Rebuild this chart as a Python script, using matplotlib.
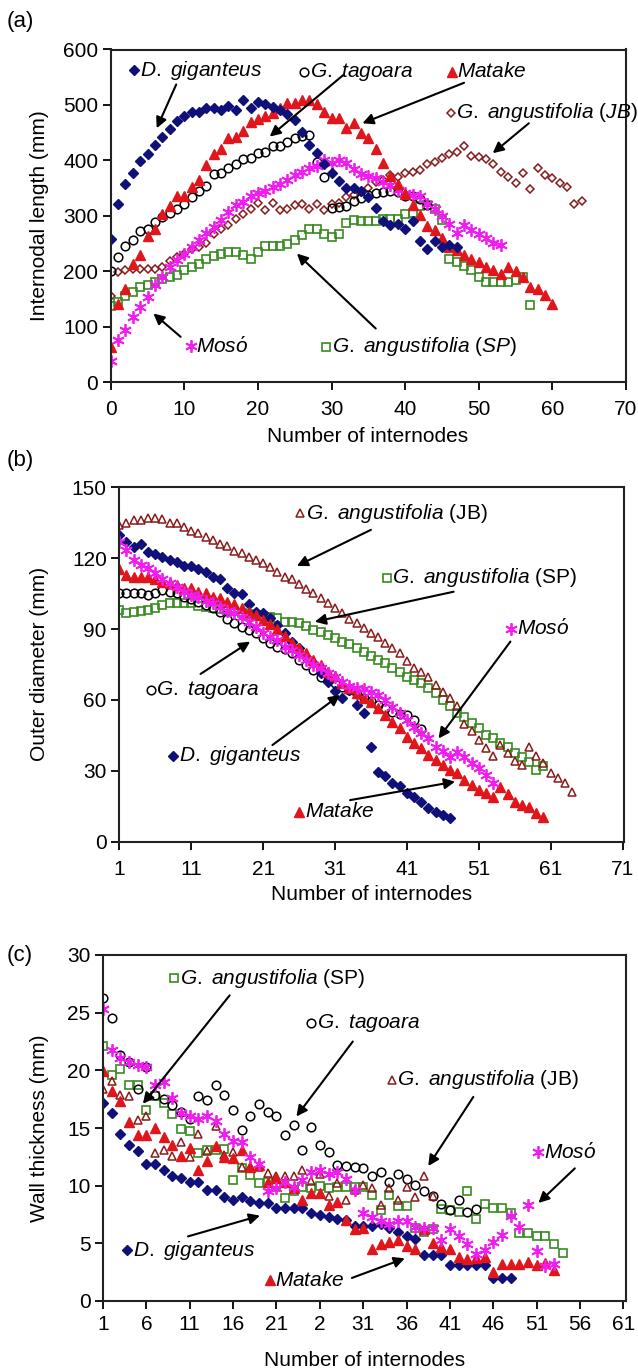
import numpy as np
import matplotlib
matplotlib.use("Agg")
import matplotlib.pyplot as plt

plt.rcParams['font.family'] = ['Liberation Sans', 'DejaVu Sans']
plt.rcParams['mathtext.fontset'] = 'custom'
plt.rcParams['mathtext.it'] = 'Liberation Sans:italic'
plt.rcParams['mathtext.rm'] = 'Liberation Sans'

# ---------------- (a) internodal length, internode 0.. ----------------
a_dg = [258, 322, 358, 378, 399, 411, 427, 442, 456, 471, 481, 488, 488, 495, 495, 491,
        499, 491, 509, 494, 506, 501, 497, 491, 483, 473, 452, 428, 414, 393, 378, 363,
        350, 350, 344, 334, 314, 291, 284, 285, 277, 290, 254, 240, 254, 244, 247, 244]
a_gt = [200, 226, 246, 256, 273, 277, 289, 298, 306, 312, 322, 334, 345, 354, 375, 378,
        386, 393, 402, 404, 413, 416, 426, 426, 434, 440, 444, 446, 397, 370, 314, 316,
        318, 326, 333, 338, 342, 343, 344, 343, 335, 336, 330, 320]
a_mt = [64, 142, 169, 213, 229, 264, 277, 304, 318, 336, 336, 352, 365, 392, 411, 420,
        440, 443, 453, 470, 474, 480, 486, 494, 503, 503, 509, 509, 501, 488, 476, 476,
        459, 467, 450, 440, 421, 396, 372, 358, 340, 320, 301, 281, 274, 260, 244, 238,
        229, 223, 216, 208, 202, 196, 208, 200, 189, 172, 169, 157, 141]
a_ms = [39, 76, 94, 118, 136, 154, 175, 190, 207, 220, 232, 244, 256, 270, 280, 292,
        307, 319, 325, 336, 342, 344, 352, 357, 364, 374, 380, 386, 390, 400, 395, 400,
        395, 384, 376, 372, 368, 362, 355, 347, 341, 338, 335, 322, 313, 300, 286, 270,
        283, 275, 268, 260, 252, 247]
a_jb = [156, 198, 202, 205, 204, 204, 204, 208, 219, 226, 231, 240, 244, 252, 268, 276,
        283, 294, 304, 313, 324, 310, 324, 310, 313, 320, 322, 313, 321, 310, 322, 324,
        334, 338, 343, 350, 361, 365, 373, 371, 377, 380, 383, 393, 398, 405, 411, 416,
        426, 408, 407, 402, 393, 380, 371, 359, 377, 348, 387, 374, 369, 359, 353, 322, 326]
a_sp = [138, 145, 156, 163, 172, 175, 181, 186, 189, 193, 202, 208, 214, 223, 228, 232,
        235, 235, 229, 222, 235, 246, 246, 246, 250, 256, 265, 276, 277, 268, 262, 268,
        288, 292, 291, 291, 291, 295, 295, 295, 304, 305, 318, 320, 312, 292, 223, 217,
        210, 202, 190, 180, 180, 180, 180, 184, 189, 139]

# ---------------- (b) outer diameter, internode 1.. ----------------
b_jb = [134, 135, 136, 136.2, 137, 137.1, 136.4, 135, 135, 133, 131.6, 130.5, 128.8, 127.7,
        125.9, 125.2, 123.2, 122.3, 120.4, 119.2, 117.8, 116.1, 114.3, 112.2, 111, 108.9,
        106.8, 105.1, 103, 100.9, 98.8, 96.7, 94.1, 92.4, 90.5, 88.5, 86.5, 84, 82, 79.7,
        76.5, 73.5, 72, 69.6, 66.3, 63.2, 60.7, 57.4, 49.7, 47, 43, 39.8, 36.3, 41, 37.7,
        34.3, 32.5, 40.2, 36.3, 33.2, 29.2, 26.8, 24.7, 21.2]
b_dg = [129.8, 126.8, 124.6, 126, 122.8, 121.8, 120.4, 119.2, 118.5, 116.7, 116.7, 115.3,
        114.3, 112.2, 111.1, 107.2, 105.1, 104.7, 100.6, 97.4, 96.7, 94.6, 91.7, 88.2, 84.7,
        81.9, 78.3, 75.5, 71.5, 67.7, 63.9, 60.7, 64.2, 57.9, 54.3, 40.2, 29.6, 27.8, 24.7,
        23.6, 20.5, 19, 16.9, 14.1, 12.7, 11.3, 9.9]
b_ms = [127, 123.5, 119.2, 117.1, 115.7, 113.6, 111, 109.4, 107.7, 105.8, 104.4, 103.7, 102,
        100.9, 99.5, 97.8, 96.7, 95.2, 93.1, 91, 88.2, 86.8, 85.4, 82.5, 81.1, 79, 76.9,
        74.8, 73.4, 71.3, 69.8, 67.7, 66, 65, 64.5, 63.5, 62, 60, 57, 54.3, 51.5, 48.7,
        45.9, 43.7, 40.2, 38.5, 36, 38.1, 36, 33.2, 31, 28.2, 24.7]
b_mt = [115.3, 112.9, 112.2, 111.9, 111.9, 111, 110, 109.6, 108.6, 107.2, 107.2, 105.8, 105.1,
        103.7, 103, 101.6, 100.6, 98.8, 97.4, 95.9, 93.8, 92, 89.9, 87.1, 84, 81.8, 79.7,
        76.9, 74.8, 72, 70.1, 67.3, 64.9, 62.8, 61, 59, 56.4, 53.6, 50.8, 48, 44.4, 41.6,
        39.5, 36.7, 34.6, 32.5, 30.3, 28.9, 26.1, 24, 22, 20.5, 19, 23, 20, 17, 15.5, 14.8,
        12, 10.6]
b_gt = [105.1, 105.1, 105.1, 105.1, 104.4, 105.1, 106.5, 105.8, 105.1, 103.7, 102.6, 101.6,
        100.2, 98.8, 97.4, 94.1, 92.7, 91, 89.6, 88.2, 86.1, 84.2, 82.5, 81.4, 79.7, 76.9,
        74.8, 72.7, 69.8, 68.5, 67, 65.5, 64, 62.5, 61, 59.5, 58, 56.5, 55, 54, 53.5, 51.5, 47.5]
b_sp = [98.1, 96.9, 97.4, 97.8, 98.1, 98.8, 100.2, 101.2, 101.2, 101.2, 100.9, 99.8, 99.5, 99,
        98.5, 98, 97.5, 97, 96.5, 95.8, 95.5, 95.2, 94.5, 93.1, 93.1, 92.4, 91.3, 89.6, 88.9,
        87.5, 86.1, 84.5, 83.5, 82, 80.5, 78.5, 77, 75.5, 73.4, 72, 69.8, 68.5, 67, 64.9,
        62.8, 60, 57.4, 54.3, 52.6, 50.1, 48, 45.2, 43.7, 41.6, 40.2, 37.7, 36, 33.9, 30.5, 32]

# ---------------- (c) wall thickness, internode 1.. ----------------
c_dg = [17.2, 16.3, 14.5, 13.5, 13, 11.9, 11.9, 11.4, 10.8, 10.7, 10.3, 10.3, 9.6, 9.6, 9,
        8.8, 9, 8.7, 8.5, 8.5, 8.1, 8.1, 8.1, 8.1, 7.6, 7.5, 7.3, 7.1, 7, 6.5, 6.5, 6.5, 6.7,
        6.3, 6, 5.6, 5.4, 4, 4, 4, 3.1, 3.1, 3.1, 3.1, 3.1, 2, 2, 2]
c_mt = [19.9, 18.2, 17.3, 15.5, 14.4, 14.4, 15, 14.2, 13.5, 12.6, 13.3, 11.4, 12.1, 13.4, 12.5,
        12.4, 13.1, 11.6, 11.8, 10.3, 10.7, 10.3, 9.8, 8.8, 9.4, 9.4, 8.3, 8.6, 7, 6.2, 6.3,
        4.5, 4.9, 5.1, 5.3, 4.8, 4.5, 6.2, 5, 4.7, 4.5, 3.8, 3.6, 3.7, 3.8, 2.5, 3.2, 3.2,
        3.2, 3.4, 3.1, 3.3, 2.7]
c_ms = [25.3, 21.8, 21.1, 20.7, 20.5, 20.3, 18.7, 19, 17.6, 16.3, 16, 15.8, 16, 15.6, 14.5,
        13.9, 13.8, 12.5, 11.9, 9.5, 9.8, 10.3, 9.9, 10.5, 11.2, 11.4, 11, 11.2, 10.6, 9.6,
        7.6, 7.3, 6.9, 6.7, 6.9, 6.9, 6.4, 6.3, 6.3, 5.3, 6.2, 5.6, 4.9, 4.1, 4.4, 5.1, 5.7,
        7.4, 6.4, 8.3, 4.3, 3, 3.2]
c_gt = [26.3, 24.5, 21.3, 20.7, 18.4, 20.3, 17.9, 17.5, 17, 16.4, 15.8, 17.8, 17.4, 18.7,
        17.9, 16.6, 14.8, 16, 17.1, 16.4, 16, 14.4, 15.3, 13.1, 15.1, 13.5, 12.9, 11.8, 11.7,
        11.6, 11.5, 10.8, 11.2, 10.3, 11, 10.6, 10.1, 9.5, 9.1, 8.4, 7.9, 8.8, 7.7, 8]
c_sp = [22.1, 19.6, 20.1, 18.7, 18.7, 16.6, 17.8, 17.2, 16.2, 14.9, 14.7, 12.8, 13.1, 13.1,
        13.2, 10.5, 11.5, 10.9, 10.2, 10.3, 9.9, 8.9, 9.5, 9.9, 9.8, 10, 9.8, 9.9, 9.9, 9.9,
        9.9, 9.2, 7.9, 9.2, 8.2, 8.2, 6.3, 6, 6.2, 8, 7.9, 7.7, 9.5, 7.1, 8.4, 8.1, 8.1, 7.6,
        5.9, 5.9, 5.6, 5.6, 4.9, 4.2]
c_jb = [18.4, 19.1, 17.9, 17.8, 15.7, 16, 12.8, 13.1, 12.6, 13.8, 12.5, 14.5, 13, 15.2, 12.7,
        12.9, 11.6, 11.6, 11.6, 11.1, 10.8, 10.8, 10.8, 11.4, 10.4, 11, 9.1, 10.2, 8.8, 9.6,
        10.1, 9.8, 8.3, 9.8, 8.8, 9.9, 9, 10.8, 9.1]

c_xticks = [1, 6, 11, 16, 21, 26, 31, 36, 41, 46, 51, 56, 61]
c_xticklabels = ['1', '6', '11', '16', '21', '2', '31', '36', '41', '46', '51', '56', '61']

NAVY = '#10107a'
RED = '#e0161c'
MAG = '#f01cf0'
GREEN = '#3a8a22'
BROWN = '#8a1a1a'

st_dg = dict(marker='D', ms=4.6, color=NAVY, mec=NAVY, ls='none')
st_gt = dict(marker='o', ms=6.2, mfc='none', mec='black', mew=1.1, ls='none')
st_mt = dict(marker='^', ms=6.8, color=RED, mec=RED, ls='none')
st_ms = dict(marker=(6, 2, 0), ms=9, color=MAG, mec=MAG, mew=1.3, ls='none')
st_sp = dict(marker='s', ms=6.3, mfc='none', mec=GREEN, mew=1.2, ls='none')
st_jbd = dict(marker='D', ms=4.3, mfc='none', mec=BROWN, mew=1.1, ls='none')
st_jbt = dict(marker='^', ms=6.3, mfc='none', mec=BROWN, mew=1.1, ls='none')

FS = 15
W, H = 638, 1371
fig = plt.figure(figsize=(W / 100, H / 100), dpi=100)


def axes_px(l, r, t, b):
    return fig.add_axes([l / W, 1 - b / H, (r - l) / W, (b - t) / H])


def series(ax, vals, start, st):
    x = np.arange(start, start + len(vals))
    ax.plot(x, vals, **st)


def tag(ax, x, y, st, text):
    ax.plot([x], [y], clip_on=False, **st)
    ax.annotate(text, (x, y), xytext=(4, 0), textcoords='offset points',
                va='center', ha='left', fontsize=FS)


def arrow(ax, tail, head):
    ax.annotate('', xy=head, xytext=tail,
                arrowprops=dict(arrowstyle='-|>', color='black', lw=1.5,
                                mutation_scale=16, shrinkA=0, shrinkB=0))


def style(ax):
    for s in ax.spines.values():
        s.set_linewidth(1.5)
        s.set_color('#222222')
    ax.tick_params(direction='out', length=6, width=1.3, labelsize=FS)
    ax.tick_params(axis='x', pad=7)
    ax.tick_params(axis='y', pad=3)


# ---------- panel (a) ----------
ax = axes_px(110.7, 626, 49.5, 382.3)
series(ax, a_jb, 0, st_jbd)
series(ax, a_sp, 0, st_sp)
series(ax, a_gt, 0, st_gt)
series(ax, a_ms, 0, st_ms)
series(ax, a_mt, 0, st_mt)
series(ax, a_dg, 0, st_dg)
ax.set_xlim(0, 70)
ax.set_ylim(0, 600)
ax.set_xticks(range(0, 71, 10))
ax.set_yticks(range(0, 601, 100))
style(ax)
tag(ax, 3.2, 563, st_dg, '$\\mathit{D.\\ giganteus}$')
tag(ax, 26.3, 560, st_gt, '$\\mathit{G.\\ tagoara}$')
tag(ax, 46.3, 560, st_mt, '$\\mathit{Matake}$')
tag(ax, 46.2, 486, st_jbd, '$\\mathit{G.\\ angustifolia\\ (JB)}$')
tag(ax, 10.9, 65, st_ms, '$\\mathit{Mos\\acute{o}}$')
tag(ax, 29.3, 64, st_sp, '$\\mathit{G.\\ angustifolia\\ (SP)}$')
arrow(ax, (8.9, 537), (6.25, 458))
arrow(ax, (31.6, 554), (21.6, 443))
arrow(ax, (48.0, 540), (34.2, 467))
arrow(ax, (56.8, 467), (51.9, 413))
arrow(ax, (9.5, 82), (5.8, 124))
arrow(ax, (36.0, 97), (25.3, 232))
fig.text(20 / W, 1 - 22 / H, '(a)', fontsize=16, ha='center', va='center')
fig.text(40 / W, 1 - 216 / H, 'Internodal length (mm)', fontsize=FS, rotation=90,
         ha='center', va='center')
fig.text(368 / W, 1 - 437 / H, 'Number of internodes', fontsize=FS, ha='center', va='center')

# ---------- panel (b) ----------
ax = axes_px(119.3, 624, 487.3, 841.7)
series(ax, b_sp, 1, st_sp)
series(ax, b_jb, 1, st_jbt)
series(ax, b_gt, 1, st_gt)
series(ax, b_dg, 1, st_dg)
series(ax, b_mt, 1, st_mt)
series(ax, b_ms, 1, st_ms)
ax.set_xlim(1, 71.2)
ax.set_ylim(0, 150)
ax.set_xticks(range(1, 72, 10))
ax.set_yticks(range(0, 151, 30))
style(ax)
tag(ax, 26.2, 139, st_jbt, '$\\mathit{G.\\ angustifolia}$ (JB)')
tag(ax, 38.2, 111.8, st_sp, '$\\mathit{G.\\ angustifolia}$ (SP)')
tag(ax, 55.5, 90, st_ms, '$\\mathit{Mos\\acute{o}}$')
tag(ax, 5.4, 64.2, st_gt, '$\\mathit{G.\\ tagoara}$')
tag(ax, 8.5, 36.3, st_dg, '$\\mathit{D.\\ giganteus}$')
tag(ax, 26.0, 12.7, st_mt, '$\\mathit{Matake}$')
arrow(ax, (36.0, 132), (25.7, 116.7))
arrow(ax, (47.5, 105.8), (28.2, 93.1))
arrow(ax, (55.4, 84.7), (45.4, 43.7))
arrow(ax, (12.3, 71), (19.2, 84.7))
arrow(ax, (22.3, 40.9), (31.7, 62.1))
arrow(ax, (33.1, 17.6), (47.7, 25.4))
fig.text(20 / W, 1 - 461 / H, '(b)', fontsize=16, ha='center', va='center')
fig.text(40 / W, 1 - 664 / H, 'Outer diameter (mm)', fontsize=FS, rotation=90,
         ha='center', va='center')
fig.text(372 / W, 1 - 895 / H, 'Number of internodes', fontsize=FS, ha='center', va='center')

# ---------- panel (c) ----------
ax = axes_px(103, 626, 955, 1301)
series(ax, c_sp, 1, st_sp)
series(ax, c_gt, 1, st_gt)
series(ax, c_jb, 1, st_jbt)
series(ax, c_dg, 1, st_dg)
series(ax, c_mt, 1, st_mt)
series(ax, c_ms, 1, st_ms)
ax.set_xlim(1, 61.3)
ax.set_ylim(0, 30)
ax.set_xticks(c_xticks)
ax.set_xticklabels(c_xticklabels)
ax.set_yticks(range(0, 31, 5))
style(ax)
ax.tick_params(axis='x', pad=4)
tag(ax, 9.2, 28, st_sp, '$\\mathit{G.\\ angustifolia}$ (SP)')
tag(ax, 25.0, 24.1, st_gt, '$\\mathit{G.\\ tagoara}$')
tag(ax, 34.3, 19.2, st_jbt, '$\\mathit{G.\\ angustifolia}$ (JB)')
tag(ax, 51.2, 12.9, st_ms, '$\\mathit{Mos\\acute{o}}$')
tag(ax, 3.8, 4.4, st_dg, '$\\mathit{D.\\ giganteus}$')
tag(ax, 20.2, 1.8, st_mt, '$\\mathit{Matake}$')
arrow(ax, (15.6, 26.5), (5.6, 17.1))
arrow(ax, (29.8, 22.5), (23.3, 16.0))
arrow(ax, (43.7, 17.7), (38.5, 11.7))
arrow(ax, (55.4, 11.5), (51.2, 8.5))
arrow(ax, (10.8, 5.6), (19.1, 7.4))
arrow(ax, (29.7, 2.0), (35.8, 3.7))
fig.text(20 / W, 1 - 955 / H, '(c)', fontsize=16, ha='center', va='center')
fig.text(40 / W, 1 - 1128 / H, 'Wall thickness (mm)', fontsize=FS, rotation=90,
         ha='center', va='center')
fig.text(365 / W, 1 - 1360 / H, 'Number of internodes', fontsize=FS, ha='center', va='center')

fig.savefig('out.png', dpi=100)
